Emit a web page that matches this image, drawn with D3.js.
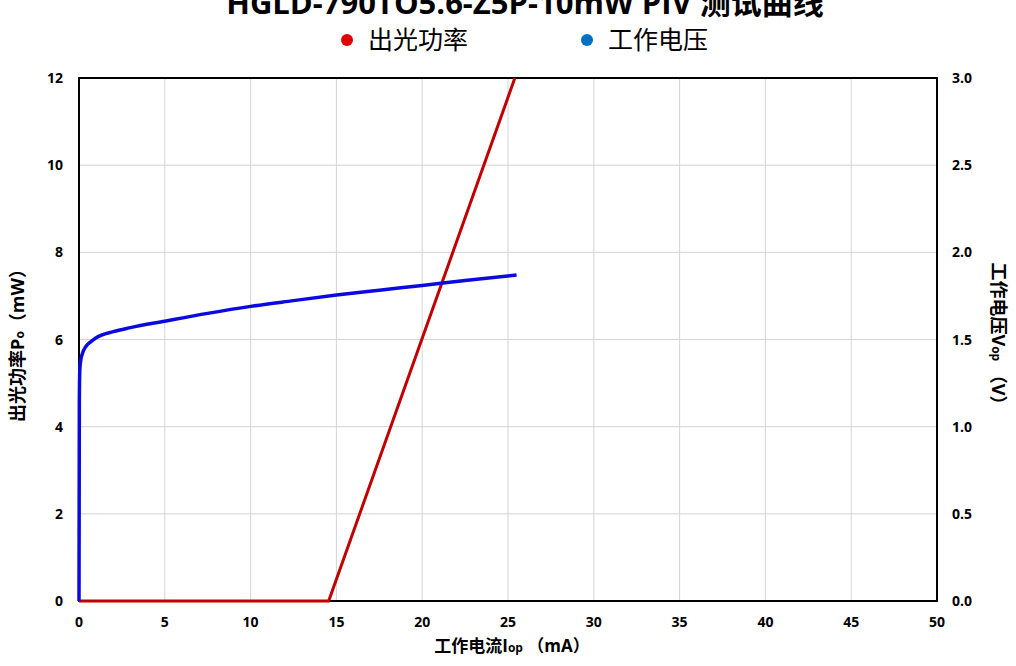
<!DOCTYPE html>
<html>
<head>
<meta charset="utf-8">
<script src="https://cdn.jsdelivr.net/npm/d3@7"></script>
<style>
  body { margin: 0; background: #fff; }
  svg text { font-family: "Open Sans", "Noto Sans CJK SC", sans-serif; }
</style>
</head>
<body>
<div id="chart"></div>
<script>
// 数据：电流 (mA)
const currentPower = [0, 14.55, 25.4];
const powerValues = [0, 0, 12];          // 出光功率 mW

const currentVolt = [0, 0.02, 0.05, 0.1, 0.2, 0.4, 0.7, 1, 2, 3, 5, 7.5, 10, 12.5, 15, 17.5, 20, 22.5, 25.5];
const voltValues = [0, 1.15, 1.33, 1.38, 1.42, 1.46, 1.488, 1.51, 1.545, 1.568, 1.605, 1.65, 1.69, 1.723, 1.755, 1.783, 1.81, 1.838, 1.87];

const xTicks = [0, 5, 10, 15, 20, 25, 30, 35, 40, 45, 50];
const yLeftTicks = [0, 2, 4, 6, 8, 10, 12];
const yRightTicks = [0, 0.5, 1.0, 1.5, 2.0, 2.5, 3.0];

const width = 1016, height = 666;
const margin = { top: 78, right: 79, bottom: 65, left: 79 };

const svg = d3.select("#chart").append("svg")
    .attr("width", width)
    .attr("height", height);

const x = d3.scaleLinear().domain([0, 50]).range([margin.left, width - margin.right]);
const yL = d3.scaleLinear().domain([0, 12]).range([height - margin.bottom, margin.top]);
const yR = d3.scaleLinear().domain([0, 3]).range([height - margin.bottom, margin.top]);

// 网格
svg.append("g")
    .selectAll("line")
    .data(xTicks.slice(1, -1))
    .join("line")
    .attr("x1", d => x(d)).attr("x2", d => x(d))
    .attr("y1", yL(0)).attr("y2", yL(12))
    .attr("stroke", "#d4d4d4").attr("stroke-width", 1);

svg.append("g")
    .selectAll("line")
    .data(yLeftTicks.slice(1, -1))
    .join("line")
    .attr("x1", x(0)).attr("x2", x(50))
    .attr("y1", d => yL(d)).attr("y2", d => yL(d))
    .attr("stroke", "#d4d4d4").attr("stroke-width", 1);

// 边框
svg.append("rect")
    .attr("x", x(0)).attr("y", yL(12))
    .attr("width", x(50) - x(0)).attr("height", yL(0) - yL(12))
    .attr("fill", "none").attr("stroke", "#000").attr("stroke-width", 2);

// 刻度标签
svg.append("g")
    .selectAll("text")
    .data(xTicks)
    .join("text")
    .attr("x", d => x(d)).attr("y", yL(0) + 26)
    .attr("text-anchor", "middle")
    .style("font-size", "14px").style("font-weight", "bold")
    .text(d => d);

svg.append("g")
    .selectAll("text")
    .data(yLeftTicks)
    .join("text")
    .attr("x", x(0) - 16).attr("y", d => yL(d) + 5)
    .attr("text-anchor", "end")
    .style("font-size", "14px").style("font-weight", "bold")
    .text(d => d);

svg.append("g")
    .selectAll("text")
    .data(yRightTicks)
    .join("text")
    .attr("x", x(50) + 15).attr("y", d => yR(d) + 5)
    .attr("text-anchor", "start")
    .style("font-size", "14px").style("font-weight", "bold")
    .text(d => d.toFixed(1));

// 曲线
const powerLine = d3.line().x(d => x(d[0])).y(d => yL(d[1]));
const voltLine = d3.line().x(d => x(d[0])).y(d => yR(d[1])).curve(d3.curveMonotoneX);

svg.append("path")
    .datum(currentPower.map((c, i) => [c, powerValues[i]]))
    .attr("d", powerLine)
    .attr("fill", "none").attr("stroke", "#c00000").attr("stroke-width", 3);

svg.append("path")
    .datum(currentVolt.map((c, i) => [c, voltValues[i]]))
    .attr("d", voltLine)
    .attr("fill", "none").attr("stroke", "#0a0ae0").attr("stroke-width", 3.5)
    .attr("stroke-linejoin", "round");

// 标题
svg.append("text")
    .attr("x", 525).attr("y", 14)
    .attr("text-anchor", "middle")
    .style("font-size", "31px").style("font-weight", "bold")
    .text("HGLD-790TO5.6-Z5P-10mW PIV 测试曲线");

// 图例
const legend = [
    { name: "出光功率", color: "#e00000", x: 347 },
    { name: "工作电压", color: "#0070c0", x: 587 }
];
const lg = svg.append("g").selectAll("g").data(legend).join("g")
    .attr("transform", d => `translate(${d.x},40)`);
lg.append("circle").attr("r", 6).attr("fill", d => d.color);
lg.append("text").attr("x", 21).attr("y", 9)
    .style("font-size", "25px")
    .text(d => d.name);

// 轴标题
const xt = svg.append("text")
    .attr("x", 512).attr("y", 652)
    .attr("text-anchor", "middle")
    .style("font-size", "17px").style("font-weight", "bold");
xt.append("tspan").text("工作电流I");
xt.append("tspan").style("font-size", "12px").text("op");
xt.append("tspan").text(" （mA）");

const ylt = svg.append("text")
    .attr("transform", "translate(24,341) rotate(-90)")
    .attr("text-anchor", "middle")
    .style("font-size", "18px").style("font-weight", "bold");
ylt.append("tspan").text("出光功率P");
ylt.append("tspan").style("font-size", "12px").text("o");
ylt.append("tspan").text("（mW）");

const yrt = svg.append("text")
    .attr("transform", "translate(992,338) rotate(90)")
    .attr("text-anchor", "middle")
    .style("font-size", "18px").style("font-weight", "bold");
yrt.append("tspan").text("工作电压V");
yrt.append("tspan").style("font-size", "12px").text("op");
yrt.append("tspan").text(" （V）");
</script>
</body>
</html>
